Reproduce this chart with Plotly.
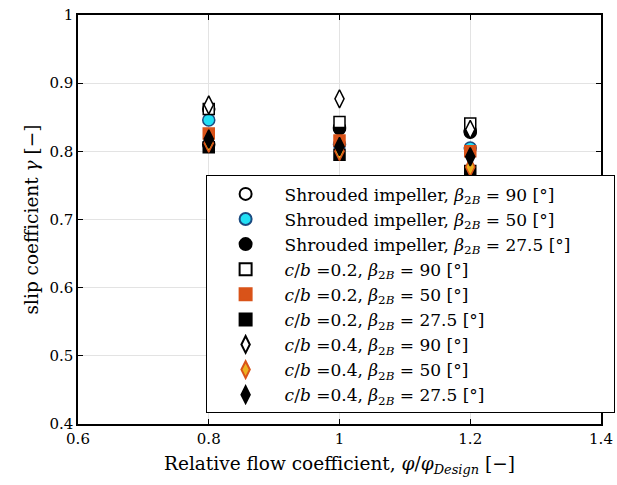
import plotly.graph_objects as go

x_vals = [0.8, 1.0, 1.2]

shroud_90 = [0.862, 0.835, 0.830]
shroud_50 = [0.846, 0.810, 0.805]
shroud_275 = [0.810, 0.833, 0.828]
cb02_90 = [0.862, 0.843, 0.841]
cb02_50 = [0.826, 0.816, 0.800]
cb02_275 = [0.806, 0.795, 0.771]
cb04_90 = [0.868, 0.877, 0.832]
cb04_50 = [0.812, 0.800, 0.777]
cb04_275 = [0.818, 0.807, 0.792]

pad = "\u00a0" * 7
names = [
    "Shrouded impeller, <i>β</i><sub>2<i>B</i></sub> = 90 [°]",
    "Shrouded impeller, <i>β</i><sub>2<i>B</i></sub> = 50 [°]",
    "Shrouded impeller, <i>β</i><sub>2<i>B</i></sub> = 27.5 [°]" + pad,
    "<i>c</i>/<i>b</i> =0.2, <i>β</i><sub>2<i>B</i></sub> = 90 [°]",
    "<i>c</i>/<i>b</i> =0.2, <i>β</i><sub>2<i>B</i></sub> = 50 [°]",
    "<i>c</i>/<i>b</i> =0.2, <i>β</i><sub>2<i>B</i></sub> = 27.5 [°]",
    "<i>c</i>/<i>b</i> =0.4, <i>β</i><sub>2<i>B</i></sub> = 90 [°]",
    "<i>c</i>/<i>b</i> =0.4, <i>β</i><sub>2<i>B</i></sub> = 50 [°]",
    "<i>c</i>/<i>b</i> =0.4, <i>β</i><sub>2<i>B</i></sub> = 27.5 [°]",
]
series = [shroud_90, shroud_50, shroud_275, cb02_90, cb02_50, cb02_275, cb04_90, cb04_50, cb04_275]
symbols = ["circle"] * 3 + ["square"] * 3 + ["diamond-tall"] * 3
fills = ["white", "#22e0f5", "black", "white", "#d95319", "black", "white", "#edb120", "black"]
lines = ["black", "#1a4a80", "black", "black", "#d95319", "black", "black", "#d95319", "black"]
sizes = [12, 12, 12, 11, 11, 11, 13, 13, 13]

fig = go.Figure()
for n, s, sym, fc, lc, sz in zip(names, series, symbols, fills, lines, sizes):
    fig.add_trace(go.Scatter(
        x=x_vals, y=s, mode="markers", name=n,
        marker=dict(symbol=sym, color=fc, size=sz, line=dict(color=lc, width=1.5)),
    ))

font_family = "DejaVu Serif"
fig.update_layout(
    width=617, height=485,
    margin=dict(l=78, r=16, t=15, b=61, autoexpand=False),
    paper_bgcolor="white", plot_bgcolor="white",
    font=dict(family=font_family, size=15, color="black"),
    xaxis=dict(
        range=[0.6, 1.4], tickvals=[0.6, 0.8, 1.0, 1.2, 1.4],
        ticktext=["0.6", "0.8", "1", "1.2", "1.4"],
        showgrid=True, gridcolor="#e3e3e3", gridwidth=1,
        showline=True, linecolor="black", linewidth=1.5, mirror="ticks",
        ticks="inside", ticklen=5, tickcolor="black", zeroline=False,
        title=dict(text="Relative flow coefficient, <i>φ</i>/<i>φ</i><sub><i>Design</i></sub> [−]", font=dict(size=18.5), standoff=10),
    ),
    yaxis=dict(
        range=[0.4, 1.0], tickvals=[0.4, 0.5, 0.6, 0.7, 0.8, 0.9, 1.0],
        ticktext=["0.4", "0.5", "0.6", "0.7", "0.8", "0.9", "1"],
        showgrid=True, gridcolor="#e3e3e3", gridwidth=1,
        showline=True, linecolor="black", linewidth=1.5, mirror="ticks",
        ticks="inside", ticklen=5, tickcolor="black", zeroline=False,
        title=dict(text="slip coefficient <i>γ</i> [−]", font=dict(size=18.5), standoff=6),
    ),
    legend=dict(
        x=0.244, y=0.608, xanchor="left", yanchor="top",
        bgcolor="white", bordercolor="black", borderwidth=1,
        font=dict(family=font_family, size=17),
        itemsizing="constant", itemwidth=68,
    ),
)

fig.write_html("out.html")
